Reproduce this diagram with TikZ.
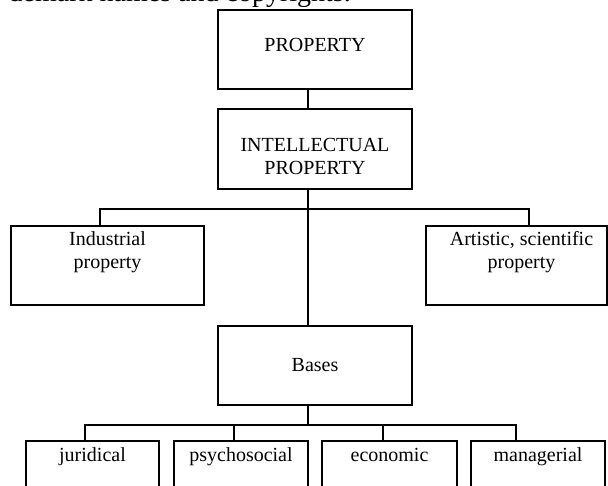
\documentclass[tikz,border=0pt]{standalone}
\usepackage{fontspec}
\setmainfont{Liberation Serif}
\usepackage{tikz}
\usetikzlibrary{positioning}

\tikzset{
  orgbox/.style={draw, line width=1.1pt, inner sep=0pt},
  boxtxt/.style={font=\fontsize{20}{23}\selectfont, align=center, inner sep=0pt},
  basetxt/.style={boxtxt, text height=14pt, text depth=4pt, below=7pt},
  link/.style={line width=1.1pt}
}

\begin{document}
\begin{tikzpicture}[x=1pt, y=-1pt]
    \useasboundingbox (0,0) rectangle (608,486);
    \clip (0,0) rectangle (608,486);
    % running text of the page, cut at the top
    \node[anchor=base east, inner sep=0pt, font=\fontsize{28}{32}\selectfont] (runtext) at (351,2) {demark names and copyrights.};

    % upper levels
    \node[orgbox, minimum width=194pt, minimum height=79pt,
          label={[boxtxt, below=28.5pt]north:PROPERTY}] (prop) at (315,49.5) {};
    \node[orgbox, minimum width=194pt, minimum height=80pt,
          label={[boxtxt, below=30pt]north:INTELLECTUAL\\PROPERTY}] (intel) at (315,149) {};
    \node[orgbox, minimum width=193pt, minimum height=79pt,
          label={[boxtxt, below=5.5pt]north:Industrial\\property}] (indus) at (107.5,265.5) {};
    \node[orgbox, minimum width=181pt, minimum height=79pt,
          label={[boxtxt, below=5.5pt, xshift=5pt]north:Artistic, scientific\\property}] (arts) at (516.5,265.5) {};
    \node[orgbox, minimum width=194pt, minimum height=79pt,
          label={[boxtxt, below=33pt]north:Bases}] (bases) at (315,365.5) {};

    % bases
    \node[orgbox, minimum width=133pt, minimum height=60pt,
          label={[basetxt]north:juridical}] (jurid) at (92.5,471) {};
    \node[orgbox, minimum width=134pt, minimum height=60pt,
          label={[basetxt]north:psychosocial}] (psycho) at (241,471) {};
    \node[orgbox, minimum width=135pt, minimum height=60pt,
          label={[basetxt]north:economic}] (econ) at (389.5,471) {};
    \node[orgbox, minimum width=134pt, minimum height=60pt,
          label={[basetxt]north:managerial}] (manag) at (538,471) {};

    \coordinate (topbus) at (308,209);
    \coordinate (lowbus) at (308,425);

    \draw[link] ([xshift=-7pt]prop.south) -- ([xshift=-7pt]intel.north);
    \draw[link] ([xshift=-7pt]intel.south) -- ([xshift=-7pt]bases.north);
    \draw[link] ([xshift=-7.5pt]indus.north) |- (topbus) -| ([xshift=12.5pt]arts.north);
    \draw[link] ([xshift=-7pt]bases.south) -- (lowbus);
    \draw[link] ([xshift=-7.5pt]jurid.north) |- (lowbus) -| ([xshift=-22pt]manag.north);
    \foreach \n/\dx in {psycho/-7, econ/-6.5}
      \draw[link] ([xshift=\dx pt]\n.north) |- (lowbus);
\end{tikzpicture}
\end{document}
